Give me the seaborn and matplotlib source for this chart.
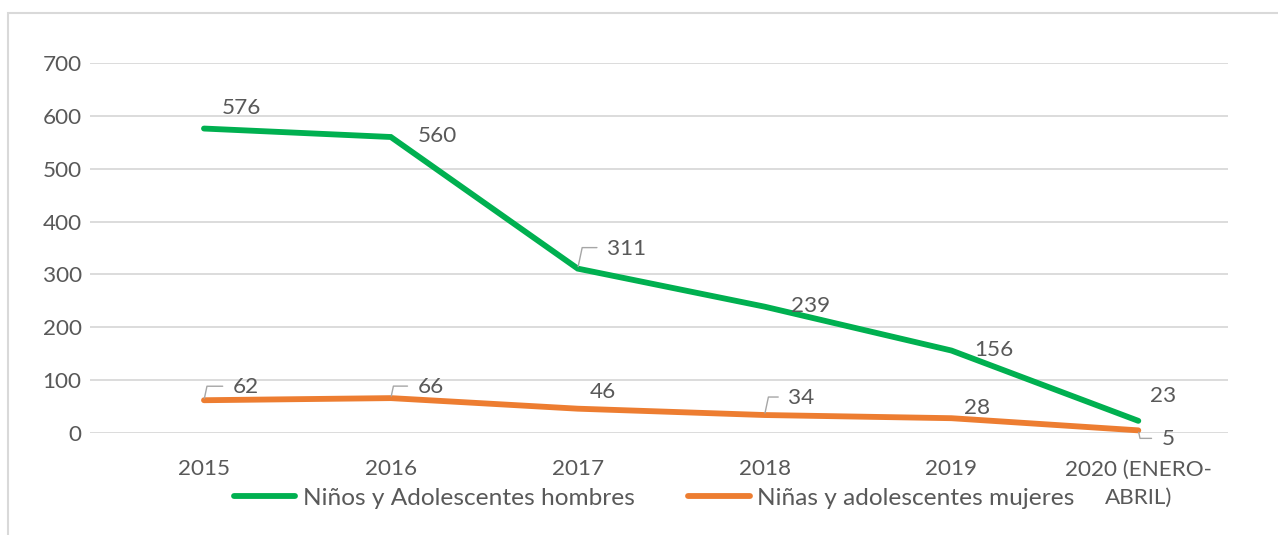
import matplotlib
matplotlib.use("Agg")
import matplotlib.pyplot as plt
import seaborn as sns
import pandas as pd
from matplotlib.patches import Rectangle

# ---- data ----
categories = ["2015", "2016", "2017", "2018", "2019", "2020 (ENERO-\nABRIL)"]
hombres = [576, 560, 311, 239, 156, 23]
mujeres = [62, 66, 46, 34, 28, 5]
series_names = ["Niños y Adolescentes hombres", "Niñas y adolescentes mujeres"]
y_ticks = [0, 100, 200, 300, 400, 500, 600, 700]

# ---- style ----
GREEN = "#00B050"
ORANGE = "#ED7D31"
TEXT = "#595959"
GRID = "#D9D9D9"
LEADER = "#A6A6A6"
FS = 16.2
LEG_FS = 17.6

sns.set_theme(style="white")
plt.rcParams["font.family"] = ["Lato", "DejaVu Sans"]

df = pd.DataFrame({
    "cat": categories * 2,
    "idx": list(range(len(categories))) * 2,
    "value": hombres + mujeres,
    "serie": [series_names[0]] * len(categories) + [series_names[1]] * len(categories),
})

fig = plt.figure(figsize=(12.78, 5.35), dpi=100)
ax = fig.add_axes([90 / 1278, 1 - 433 / 535, (1228 - 90) / 1278, (433 - 63) / 535])

sns.lineplot(data=df, x="idx", y="value", hue="serie",
             palette={series_names[0]: GREEN, series_names[1]: ORANGE},
             linewidth=4.2, legend=False, ax=ax, clip_on=False)
for ln in ax.lines:
    ln.set_solid_capstyle("round")
    ln.set_solid_joinstyle("miter")

ax.set_ylim(0, 700)
ax.set_xlim(-0.61, 5.48)
ax.set_yticks(y_ticks)
ax.set_yticklabels([str(v) for v in y_ticks])
ax.set_xticks(range(len(categories)))
ax.set_xticklabels(categories, linespacing=1.5, ha="center", multialignment="center")
ax.set_xlabel("")
ax.set_ylabel("")
ax.grid(axis="y", color=GRID, linewidth=1.3)
ax.set_axisbelow(True)
for s in ax.spines.values():
    s.set_visible(False)
ax.tick_params(axis="y", length=0, pad=6, labelsize=FS, labelcolor=TEXT)
ax.tick_params(axis="x", length=0, pad=19, labelsize=FS, labelcolor=TEXT)

# ---- data labels (offsets in pixels from each point) ----
h_offsets = [(37, 21), (47, 1), (49, 20), (46, 1), (42, 1), (25, 25)]
h_leader = [False, False, True, False, False, False]
m_offsets = [(42, 13), (40, 11), (25, 17), (37, 17), (26, 10), (30, -9)]
m_leader = [True, True, False, True, False, True]


def put_labels(values, offsets, leaders):
    for i, (v, off, lead) in enumerate(zip(values, offsets, leaders)):
        kw = {}
        if lead:
            angB = 78 if off[1] > 0 else -78
            kw["arrowprops"] = dict(arrowstyle="-", color=LEADER, lw=1.0,
                                    shrinkA=5, shrinkB=1.5, relpos=(0, 0.55),
                                    connectionstyle=f"angle,angleA=0,angleB={angB},rad=0")
        ax.annotate(str(v), xy=(i, v), xytext=off, textcoords="offset pixels",
                    ha="center", va="center", fontsize=FS, color=TEXT,
                    annotation_clip=False, **kw)


put_labels(hombres, h_offsets, h_leader)
put_labels(mujeres, m_offsets, m_leader)

# ---- legend ----
leg = fig.legend(handles=ax.lines[:2], labels=series_names, loc="center",
                 bbox_to_anchor=(0.512, 1 - 498 / 535), ncol=2, frameon=False,
                 fontsize=LEG_FS, handlelength=2.5, handletextpad=0.3,
                 columnspacing=2.2, borderaxespad=0)
for t in leg.get_texts():
    t.set_color(TEXT)
for h in leg.legend_handles:
    h.set_linewidth(4.2)
    h.set_solid_capstyle("round")

# ---- chart frame (cut off at right and bottom like the reference) ----
fig.patches.append(Rectangle((8 / 1278, -0.05), 1.2, 1 - 13 / 535 + 0.05,
                             transform=fig.transFigure, fill=False,
                             edgecolor=GRID, linewidth=1.5, zorder=0))

fig.savefig("out.png", dpi=100, facecolor="white")
